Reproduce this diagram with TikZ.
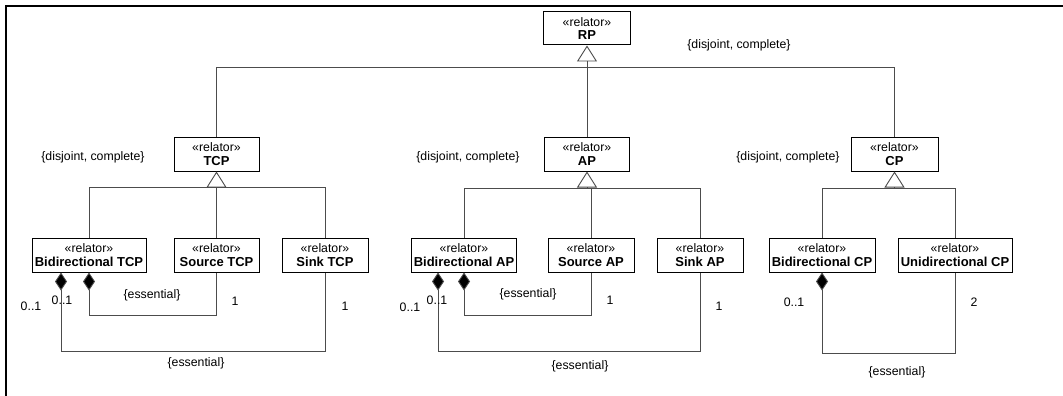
\documentclass[tikz,border=0pt]{standalone}
\usepackage{fontspec}
\setmainfont{Liberation Sans}
\usetikzlibrary{arrows.meta}
\newcommand\cname[1]{{\fontsize{13}{13.5}\selectfont\bfseries #1}}
\begin{document}
\begin{tikzpicture}[x=1pt,y=-1pt,
  cls/.style={draw=black, line width=1pt, fill=white, inner sep=0pt, align=center,
    font=\fontsize{12.3}{13.5}\selectfont, minimum height=34pt},
  conn/.style={draw=black!70, line width=0.9pt},
  gen/.style={conn, -{Triangle[open, length=16pt, width=20pt, line width=0.9pt]}},
  comp/.style={conn, {Diamond[length=18pt, width=12pt, fill=black]}-},
  lbl/.style={font=\fontsize{12.3}{14}\selectfont, inner sep=0pt}]
\useasboundingbox (0,0) rectangle (1063,396);
\fill[white] (0,0) rectangle (1063,396);
\draw[line width=2pt] (6,396) -- (6,6) -- (1063,6);

% classes
\node[cls, minimum width=87pt, minimum height=33pt] (RP) at (587,28.5) {«relator»\\\cname{RP}};
\node[cls, minimum width=85pt] (TCP) at (216.5,154) {«relator»\\\cname{TCP}};
\node[cls, minimum width=85pt] (AP) at (587,154) {«relator»\\\cname{AP}};
\node[cls, minimum width=87pt] (CP) at (894.5,154) {«relator»\\\cname{CP}};

\node[cls, minimum width=114pt] (BTCP) at (89,255) {«relator»\\\cname{Bidirectional TCP}};
\node[cls, minimum width=85pt] (STCP) at (216.5,255) {«relator»\\\cname{Source TCP}};
\node[cls, minimum width=86pt] (KTCP) at (325,255) {«relator»\\\cname{Sink TCP}};

\node[cls, minimum width=105pt] (BAP) at (464,255) {«relator»\\\cname{Bidirectional AP}};
\node[cls, minimum width=86pt] (SAP) at (591,255) {«relator»\\\cname{Source AP}};
\node[cls, minimum width=86pt] (KAP) at (700,255) {«relator»\\\cname{Sink AP}};

\node[cls, minimum width=106pt] (BCP) at (822,255) {«relator»\\\cname{Bidirectional CP}};
\node[cls, minimum width=114pt] (UCP) at (955,255) {«relator»\\\cname{Unidirectional CP}};

% generalization sets
\coordinate (g0) at (587,67);
\draw[conn] (TCP.north) -- (TCP.north |- g0) -- (CP.north |- g0) -- (CP.north);
\draw[conn] (AP.north) -- (g0);
\draw[gen] (g0) -- (RP.south);

\coordinate (g1) at (216.5,187);
\draw[conn] (BTCP.north) -- (BTCP.north |- g1) -- (KTCP.north |- g1) -- (KTCP.north);
\draw[conn] (STCP.north) -- (g1);
\draw[gen] (g1) -- (TCP.south);

\coordinate (g2) at (587,188);
\draw[conn] (BAP.north) -- (BAP.north |- g2) -- (KAP.north |- g2) -- (KAP.north);
\draw[conn] (SAP.north) -- (SAP.north |- g2);
\draw[gen] (g2) -- (AP.south);

\coordinate (g3) at (894.5,188);
\draw[conn] (BCP.north) -- (BCP.north |- g3) -- (UCP.north |- g3) -- (UCP.north);
\draw[gen] (g3) -- (CP.south);

% compositions
\coordinate (lo) at (0,351);
\coordinate (up) at (0,315);
\coordinate (lo3) at (0,353);
\draw[comp] ([xshift=-28pt]BTCP.south) -- ([xshift=-28pt]BTCP.south |- lo) -| (KTCP.south);
\draw[comp] (BTCP.south) -- (BTCP.south |- up) -| (STCP.south);
\draw[comp] ([xshift=-26pt]BAP.south) -- ([xshift=-26pt]BAP.south |- lo) -| (KAP.south);
\draw[comp] (BAP.south) -- (BAP.south |- up) -| (SAP.south);
\draw[comp] (BCP.south) -- (BCP.south |- lo3) -| (UCP.south);

% labels
\node[lbl] (d0) at (739,45) {\{disjoint, complete\}};
\node[lbl] (d1) at (93,157) {\{disjoint, complete\}};
\node[lbl] (d2) at (468,157) {\{disjoint, complete\}};
\node[lbl] (d3) at (788,157) {\{disjoint, complete\}};

\node[lbl] (m1) at (31,306) {0..1};
\node[lbl] (m2) at (62,300) {0..1};
\node[lbl] (e1) at (152,295) {\{essential\}};
\node[lbl] (m3) at (235,301) {1};
\node[lbl] (m4) at (345,306) {1};
\node[lbl] (e2) at (196,363) {\{essential\}};

\node[lbl] (m5) at (410,307) {0..1};
\node[lbl] (m6) at (437,300) {0..1};
\node[lbl] (e3) at (528,294) {\{essential\}};
\node[lbl] (m7) at (610,300) {1};
\node[lbl] (m8) at (719,306) {1};
\node[lbl] (e4) at (580,366) {\{essential\}};

\node[lbl] (m9) at (794,302) {0..1};
\node[lbl] (m10) at (974,302) {2};
\node[lbl] (e5) at (897,372) {\{essential\}};
\end{tikzpicture}
\end{document}
